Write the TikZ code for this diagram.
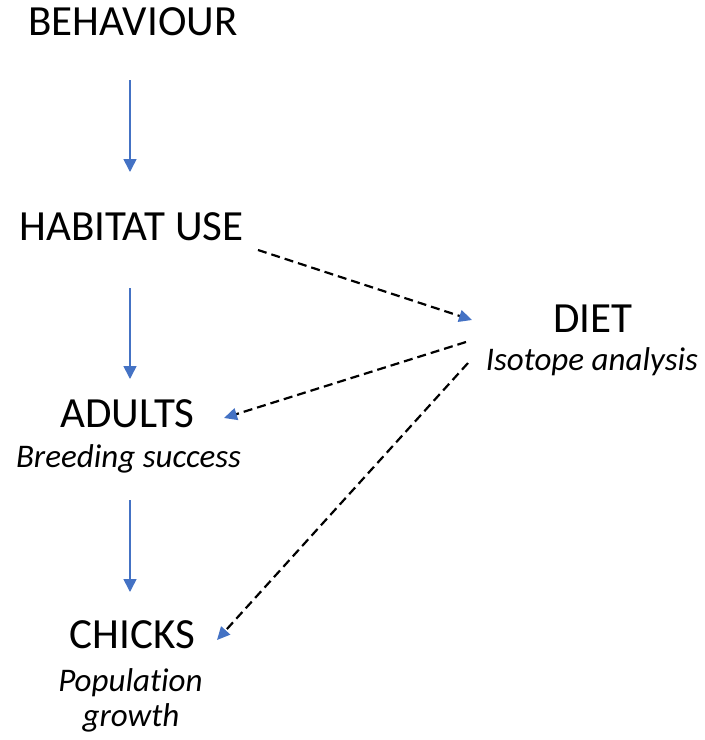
\documentclass[tikz,border=0pt]{standalone}
\usepackage{fontspec}
\setmainfont{Carlito}[Ligatures=NoCommon]
\usetikzlibrary{arrows.meta}
\definecolor{ablue}{HTML}{4472C4}
\tikzset{
  title/.style={anchor=base, inner sep=0pt, font=\fontsize{43}{50}\selectfont},
  sub/.style={anchor=base, inner sep=0pt, font=\fontsize{33}{39}\selectfont\itshape},
  bluearrow/.style={draw=ablue, line width=1.6pt, -{Triangle[length=13pt,width=13pt,color=ablue]}},
  dasharrow/.style={draw=black, line width=2.2pt, dash pattern=on 9pt off 5pt, -{Triangle[length=13pt,width=12pt,color=ablue]}}
}
\begin{document}
\begin{tikzpicture}[x=1pt, y=-1pt]
\useasboundingbox (0,0) rectangle (705,740);
\node[title] (beh) at (133,35) {BEHAVIOUR};
\node[title] (hab) at (131.5,240) {HABITAT USE};
\node[title] (adu) at (127.5,427) {ADULTS};
\node[sub] (bre) at (128.5,467) {Breeding success};
\node[title] (chi) at (132.5,648) {CHICKS};
\node[sub] (pop) at (130.5,691) {Population};
\node[sub] (gro) at (131,726) {growth};
\node[title] (diet) at (593,332) {DIET};
\node[sub] (iso) at (592,370) {Isotope analysis};

\draw[bluearrow] ([xshift=-3pt,yshift=-45pt]beh.base) -- ([xshift=-1.5pt,yshift=68pt]hab.base);
\draw[bluearrow] ([xshift=-1.5pt,yshift=-48pt]hab.base) -- ([xshift=2.5pt,yshift=48pt]adu.base);
\draw[bluearrow] ([xshift=1.5pt,yshift=-33pt]bre.base) -- ([xshift=-2.5pt,yshift=56pt]chi.base);

\draw[dasharrow] ([xshift=126.5pt,yshift=-10pt]hab.base) -- ([xshift=-121pt,yshift=12pt]diet.base);
\draw[dasharrow] ([xshift=-127pt,yshift=-10pt]diet.base) -- ([xshift=96.5pt,yshift=9pt]adu.base);
\draw[dasharrow] ([xshift=-124pt,yshift=7pt]iso.base) -- ([xshift=84.5pt,yshift=8pt]chi.base);
\end{tikzpicture}
\end{document}
